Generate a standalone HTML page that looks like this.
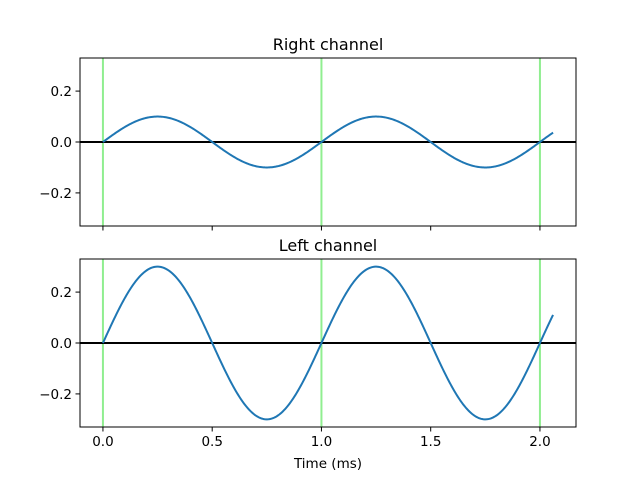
<!DOCTYPE html>
<html><head><meta charset="utf-8"><style>
body{margin:0;background:#fff;font-family:"Liberation Sans","DejaVu Sans",sans-serif;}
</style></head><body>
<svg id="chart" width="640" height="480" xmlns="http://www.w3.org/2000/svg" font-family="DejaVu Sans, Liberation Sans, sans-serif"></svg>
<script>
const channels = ["Right channel", "Left channel"];
const amplitudes = [0.1, 0.3];
const frequencyPerMs = 1.0;
const tEnd = 2.06;
const vlines = [0, 1, 2];
const xTicks = [0, 0.5, 1.0, 1.5, 2.0];
const xTickLabels = ["0.0", "0.5", "1.0", "1.5", "2.0"];
const yTicks = [-0.2, 0, 0.2];
const yTickLabels = ["\u22120.2", "0.0", "0.2"];

const NS = "http://www.w3.org/2000/svg";
const svg = document.getElementById("chart");
const L = 80, R = 576;
const xMin = -0.105, xMax = 2.165, yMin = -0.33, yMax = 0.33;
const panels = [{top: 58, bottom: 226}, {top: 259, bottom: 427}];
function X(v){ return L + (v - xMin) / (xMax - xMin) * (R - L); }
function mk(tag, attrs, parent){ const e = document.createElementNS(NS, tag); for (const k in attrs) e.setAttribute(k, attrs[k]); (parent||svg).appendChild(e); return e; }

panels.forEach((p, i) => {
  const Y = v => p.bottom - (v - yMin) / (yMax - yMin) * (p.bottom - p.top);
  const g = mk("g", {});
  
  
  vlines.forEach(v => {
    const l = mk("line", {x1: X(v), x2: X(v), y1: p.top, y2: p.bottom, stroke: "#90ee90", "stroke-width": 2}, g);
    
    
  });
  const z = mk("line", {x1: L, x2: R, y1: Y(0), y2: Y(0), stroke: "#000", "stroke-width": 2}, g);
  
  
  let d = "";
  const n = 400;
  for (let k = 0; k <= n; k++) {
    const t = tEnd * k / n;
    const v = amplitudes[i] * Math.sin(2 * Math.PI * frequencyPerMs * t);
    d += (k ? "L" : "M") + X(t).toFixed(2) + "," + Y(v).toFixed(2);
  }
  const path = mk("path", {d: d, fill: "none", stroke: "#1f77b4", "stroke-width": 2}, g);
  
  
  const frame = mk("rect", {x: L, y: p.top, width: R - L, height: p.bottom - p.top, fill: "none", stroke: "#000", "stroke-width": 1}, g);
  
  
  yTicks.forEach((v, j) => {
    mk("line", {x1: L - 4.5, x2: L, y1: Y(v), y2: Y(v), stroke: "#000"}, g);
    const t = mk("text", {x: L - 8, y: Y(v) + 5, "text-anchor": "end", "font-size": 13.5}, g);
    t.textContent = yTickLabels[j];
    
    
  });
  xTicks.forEach((v, j) => {
    mk("line", {x1: X(v), x2: X(v), y1: p.bottom, y2: p.bottom + 4.5, stroke: "#000"}, g);
    if (i === 1) {
      const t = mk("text", {x: X(v), y: p.bottom + 19, "text-anchor": "middle", "font-size": 13.5}, g);
      t.textContent = xTickLabels[j];
      
      
    }
  });
  const title = mk("text", {x: (L + R) / 2, y: p.top - 8, "text-anchor": "middle", "font-size": 16}, g);
  title.textContent = channels[i];
  
  
});
const xl = mk("text", {x: (L + R) / 2, y: 468, "text-anchor": "middle", "font-size": 13.5});
xl.textContent = "Time (ms)";


</script>
</body></html>
